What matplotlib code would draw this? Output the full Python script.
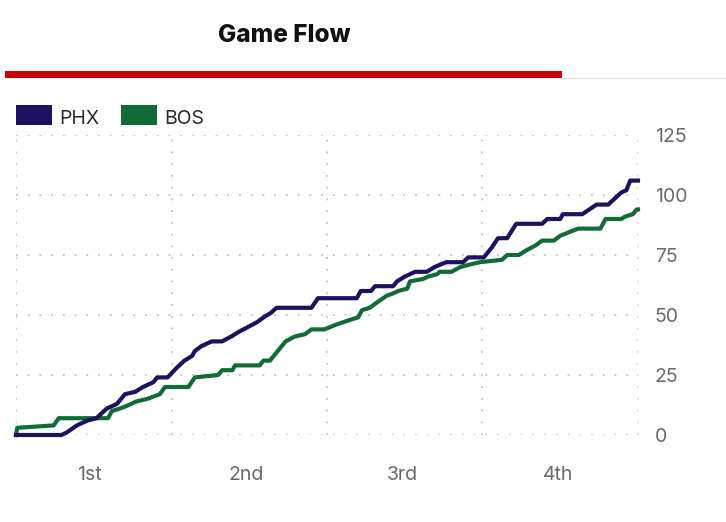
import matplotlib
matplotlib.use('Agg')
import matplotlib.pyplot as plt
from matplotlib.patches import Rectangle
from matplotlib.lines import Line2D

plt.rcParams['font.family'] = ['Inter', 'DejaVu Sans']

# game minute / running score
phx_min = [0, 3.5, 3.9, 4.7, 5.5, 6.2, 7.0, 7.8, 8.4, 9.2, 9.8, 10.6, 10.9, 11.7,
           12.4, 13.0, 13.6, 13.8, 14.3, 15.1, 15.9, 16.6, 17.2, 17.9, 18.6, 19.1,
           19.7, 20.1, 22.8, 23.3, 26.3, 26.6, 27.4, 27.7, 29.1, 29.4, 30.0, 30.8,
           31.7, 32.3, 33.2, 34.5, 34.9, 36.1, 36.7, 37.2, 37.9, 38.6, 40.6, 41.0,
           42.0, 42.2, 43.7, 44.8, 45.7, 46.7, 47.1, 47.4, 48.0]
phx_pts = [0, 0, 1, 4, 6, 7, 11, 13, 17, 18, 20, 22, 24, 24,
           28, 31, 33, 35, 37, 39, 39, 41, 43, 45, 47, 49,
           51, 53, 53, 57, 57, 60, 60, 62, 62, 64, 66, 68,
           68, 70, 72, 72, 74, 74, 78, 82, 82, 88, 88, 90,
           90, 92, 92, 96, 96, 101, 102, 106, 106]

bos_min = [0, 0.1, 2.9, 3.3, 7.1, 7.4, 8.0, 8.5, 9.3, 10.1, 10.6, 11.1, 11.5,
           13.3, 13.8, 15.6, 15.9, 16.7, 16.9, 18.8, 19.1, 19.6, 19.9, 20.2,
           20.8, 21.5, 22.3, 22.8, 23.8, 24.7, 25.8, 26.4, 26.7, 27.3, 27.8,
           28.6, 29.1, 29.5, 30.2, 30.4, 31.4, 31.8, 32.5, 32.7, 33.6, 34.3,
           35.0, 35.8, 37.5, 37.9, 38.8, 39.4, 40.1, 40.6, 41.5, 42.0, 42.9,
           43.4, 45.1, 45.5, 46.7, 47.0, 47.6, 47.9, 48.0]
bos_pts = [0, 3, 4, 7, 7, 10, 11, 12, 14, 15, 16, 17, 20,
           20, 24, 25, 27, 27, 29, 29, 31, 31, 33, 35,
           39, 41, 42, 44, 44, 46, 48, 49, 52, 53, 55,
           58, 59, 60, 61, 64, 65, 66, 67, 68, 68, 70,
           71, 72, 73, 75, 75, 77, 79, 81, 81, 83, 85,
           86, 86, 90, 90, 91, 92, 94, 94]

quarters = ['1st', '2nd', '3rd', '4th']
quarter_label_at = [5.7, 17.75, 29.8, 41.8]
y_ticks = [0, 25, 50, 75, 100, 125]

PHX_COLOR = '#1D1160'
BOS_COLOR = '#116B37'
GRID_COLOR = '#c4c4c4'
TEXT_GRAY = '#6a6a6a'

fig = plt.figure(figsize=(7.26, 5.22), dpi=100)

# header: title, red tab bar, thin rule
fig.text(0.391, 1 - 35 / 522, 'Game Flow', ha='center', va='center',
         fontsize=17.5, fontweight='heavy', color='#111111')
fig.add_artist(Rectangle((0.0069, 0.8506), 0.767, 0.0134, transform=fig.transFigure,
                         facecolor='#cc0000', edgecolor='none'))
fig.add_artist(Line2D([0.774, 1.0], [0.8497, 0.8497], transform=fig.transFigure,
                      color='#e4e4e4', linewidth=1))

# legend drawn by hand (square swatches)
for x0, color, name in [(16, PHX_COLOR, 'PHX'), (121, BOS_COLOR, 'BOS')]:
    fig.add_artist(Rectangle((x0 / 726, 1 - 125 / 522), 36 / 726, 20 / 522,
                             transform=fig.transFigure, facecolor=color, edgecolor='none'))
    fig.text((x0 + 43) / 726, 1 - 116.5 / 522, name, ha='left', va='center_baseline',
             fontsize=14, color='#2a2a2a')

ax = fig.add_axes([16 / 726, 1 - 435 / 522, 622 / 726, 300 / 522])
ax.set_xlim(0, 48)
ax.set_ylim(0, 125)

for q in range(5):
    ax.axvline(q * 12, color=GRID_COLOR, linewidth=1.3, linestyle=(0, (1, 5.5)), zorder=1)
for yt in y_ticks:
    ax.axhline(yt, color=GRID_COLOR, linewidth=1.3, linestyle=(0, (1, 5.5)), zorder=1)

ax.plot(bos_min, bos_pts, color=BOS_COLOR, linewidth=3, solid_joinstyle='round',
        clip_on=False, zorder=3)
ax.plot(phx_min, phx_pts, color=PHX_COLOR, linewidth=3, solid_joinstyle='round',
        clip_on=False, zorder=4)

for s in ax.spines.values():
    s.set_visible(False)

ax.yaxis.tick_right()
ax.set_yticks(y_ticks)
ax.set_yticklabels([str(v) for v in y_ticks])
ax.tick_params(axis='y', length=0, pad=12, labelsize=14, labelcolor=TEXT_GRAY)

ax.set_xticks(quarter_label_at)
ax.set_xticklabels(quarters)
ax.tick_params(axis='x', length=0, pad=22, labelsize=14, labelcolor=TEXT_GRAY)

fig.savefig('out.png', dpi=100)
